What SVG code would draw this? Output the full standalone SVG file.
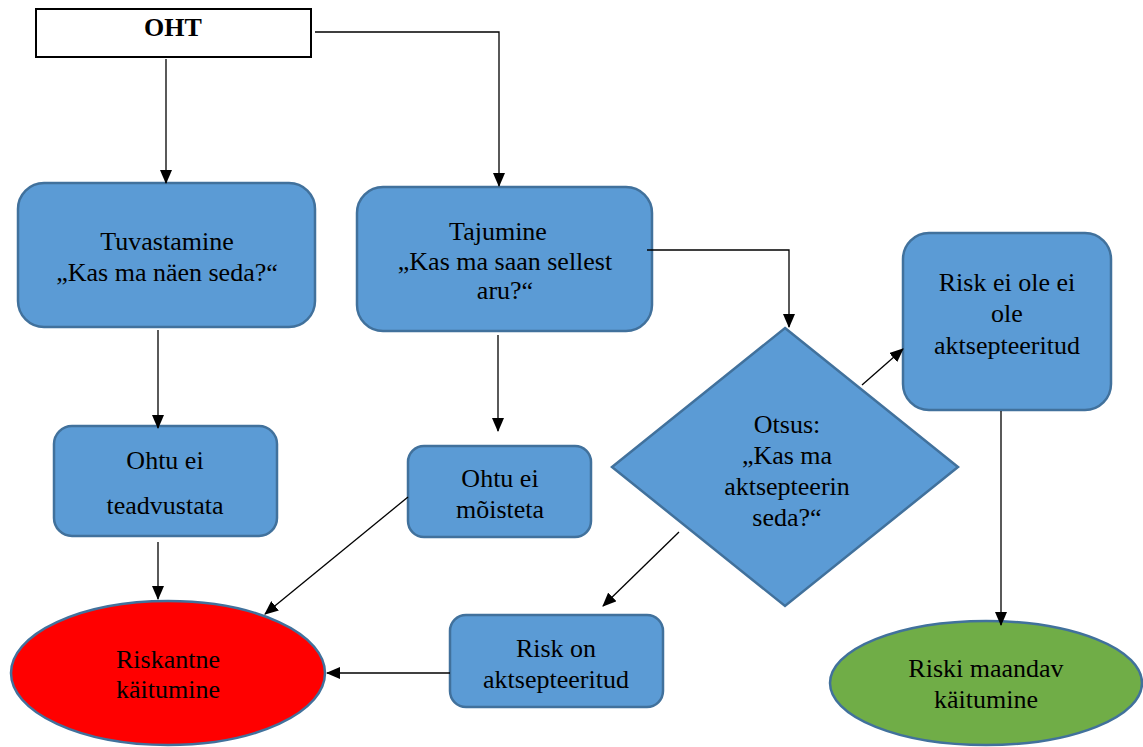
<svg xmlns="http://www.w3.org/2000/svg" width="1143" height="747" viewBox="0 0 1143 747">
<defs>
<marker id="ah" markerWidth="14" markerHeight="12" refX="13" refY="6" orient="auto" markerUnits="userSpaceOnUse" viewBox="0 0 14 12">
<path d="M0,0 L14,6 L0,12 z" fill="#000"/>
</marker>
</defs>
<style>
.box{fill:#5b9bd5;stroke:#41719c;stroke-width:2.5}
.t{font-family:"Liberation Serif","Times New Roman",serif;font-size:26px;fill:#000;text-anchor:middle}
.c{fill:none;stroke:#000;stroke-width:1.3;marker-end:url(#ah)}
</style>
<rect width="1143" height="747" fill="#fff"/>
<g id="oht">
<rect x="36" y="9" width="275" height="48" fill="#fff" stroke="#000" stroke-width="2"/>
<text class="t" x="173" y="36" font-weight="bold">OHT</text>
</g>
<g id="tuvastamine">
<rect class="box" x="18" y="183" width="297" height="144" rx="26"/>
<text class="t" x="167" y="250">Tuvastamine</text>
<text class="t" x="167" y="281">„Kas ma näen seda?“</text>
</g>
<g id="tajumine">
<rect class="box" x="357" y="187" width="295" height="144" rx="26"/>
<text class="t" x="498" y="240">Tajumine</text>
<text class="t" x="505" y="270">„Kas ma saan sellest</text>
<text class="t" x="505" y="299">aru?“</text>
</g>
<g id="otsus">
<polygon class="box" points="785,328 958,467 785,606 612,467"/>
<text class="t" x="787" y="433">Otsus:</text>
<text class="t" x="787" y="464">„Kas ma</text>
<text class="t" x="787" y="495">aktsepteerin</text>
<text class="t" x="787" y="526">seda?“</text>
</g>
<g id="risk-ei-ole">
<rect class="box" x="903" y="233" width="208" height="177" rx="26"/>
<text class="t" x="1007" y="291">Risk ei ole ei</text>
<text class="t" x="1007" y="322">ole</text>
<text class="t" x="1007" y="354">aktsepteeritud</text>
</g>
<g id="riski-maandav">
<ellipse cx="986" cy="683" rx="156" ry="62" fill="#70ad47" stroke="#41719c" stroke-width="2.5"/>
<text class="t" x="986" y="677">Riski maandav</text>
<text class="t" x="986" y="708">käitumine</text>
</g>
<g id="ohtu-ei-teadvustata">
<rect class="box" x="54" y="426" width="223" height="110" rx="18"/>
<text class="t" x="165" y="469">Ohtu ei</text>
<text class="t" x="165" y="514">teadvustata</text>
</g>
<g id="riskantne">
<ellipse cx="168" cy="673" rx="157" ry="72" fill="#ff0000" stroke="#41719c" stroke-width="2.5"/>
<text class="t" x="168" y="668">Riskantne</text>
<text class="t" x="168" y="698">käitumine</text>
</g>
<g id="ohtu-ei-moisteta">
<rect class="box" x="408" y="446" width="183" height="91" rx="16"/>
<text class="t" x="500" y="487">Ohtu ei</text>
<text class="t" x="500" y="518">mõisteta</text>
</g>
<g id="risk-on">
<rect class="box" x="450" y="615" width="213" height="92" rx="16"/>
<text class="t" x="556" y="657">Risk on</text>
<text class="t" x="556" y="688">aktsepteeritud</text>
</g>
<g id="connectors">
<path class="c" d="M166,59 V183"/>
<path class="c" d="M315,32 H499 V186"/>
<path class="c" d="M647,250 H789 V327"/>
<path class="c" d="M158,330 V428"/>
<path class="c" d="M498,335 V431"/>
<path class="c" d="M158,542 V599"/>
<path class="c" d="M408,497 L265,614"/>
<path class="c" d="M679,532 L603,606"/>
<path class="c" d="M450,673 L327,673"/>
<path class="c" d="M862,385 L903,349"/>
<path class="c" d="M1001,411 V625"/>
</g>
</svg>
